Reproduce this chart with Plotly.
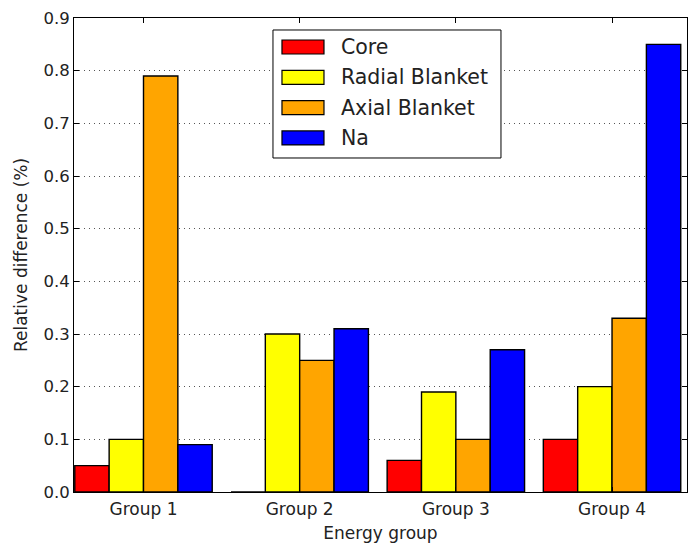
import plotly.graph_objects as go

groups = ["Group 1", "Group 2", "Group 3", "Group 4"]
series_names = ["Core", "Radial Blanket", "Axial Blanket", "Na"]
core = [0.05, 0.0, 0.06, 0.10]
radial_blanket = [0.10, 0.30, 0.19, 0.20]
axial_blanket = [0.79, 0.25, 0.10, 0.33]
sodium = [0.09, 0.31, 0.27, 0.85]
colors = ["#ff0000", "#ffff00", "#ffa500", "#0000ff"]
y_ticks = [0.0, 0.1, 0.2, 0.3, 0.4, 0.5, 0.6, 0.7, 0.8, 0.9]

positions = list(range(len(groups)))
font = "DejaVu Sans"
text_color = "#222222"

fig = go.Figure()
for name, vals, col in zip(series_names, [core, radial_blanket, axial_blanket, sodium], colors):
    fig.add_trace(go.Bar(
        x=positions, y=vals, name=name,
        marker=dict(color=col, line=dict(color="black", width=1.4)),
        showlegend=False,
    ))

# Legend box drawn with matplotlib-style wide swatches, anchored at its top-left corner
leg_x, leg_y = 0.3246, 0.9747
leg_w, leg_h = 228, 128
row_h, first_row = 30.3, 17
shapes = [dict(
    type="rect", xref="paper", yref="paper",
    xsizemode="pixel", ysizemode="pixel", xanchor=leg_x, yanchor=leg_y,
    x0=0, x1=leg_w, y0=0, y1=-leg_h,
    line=dict(color="black", width=1), fillcolor="white", layer="above",
)]
annotations = []
for i, (name, col) in enumerate(zip(series_names, colors)):
    yc = -(first_row + row_h * i)
    shapes.append(dict(
        type="rect", xref="paper", yref="paper",
        xsizemode="pixel", ysizemode="pixel", xanchor=leg_x, yanchor=leg_y,
        x0=9, x1=51, y0=yc - 7, y1=yc + 7,
        line=dict(color="black", width=1.2), fillcolor=col, layer="above",
    ))
    annotations.append(dict(
        xref="paper", yref="paper", x=leg_x, y=leg_y,
        xshift=66, yshift=yc, xanchor="left", yanchor="middle",
        text=name, showarrow=False,
        font=dict(family=font, size=20.5, color=text_color),
    ))

fig.update_layout(
    width=689, height=543,
    margin=dict(l=74, r=2, t=18, b=51),
    paper_bgcolor="white", plot_bgcolor="white",
    barmode="group", bargap=0.12, bargroupgap=0,
    font=dict(family=font, color=text_color, size=17),
    showlegend=False,
    shapes=shapes, annotations=annotations,
)
fig.update_xaxes(
    range=[-0.445, 3.48],
    tickvals=positions, ticktext=groups,
    showline=True, linecolor="black", linewidth=1, mirror="ticks",
    ticks="inside", ticklen=5, tickcolor="black",
    showgrid=False, zeroline=False,
    tickfont=dict(size=17), ticklabelstandoff=2,
    title=dict(text="Energy group", font=dict(size=17), standoff=9),
)
fig.update_yaxes(
    range=[0, 0.9],
    tickvals=y_ticks, ticktext=[f"{v:.1f}" for v in y_ticks],
    showline=True, linecolor="black", linewidth=1, mirror="ticks",
    ticks="inside", ticklen=5, tickcolor="black",
    showgrid=True, gridcolor="#555555", griddash="1px,4px", gridwidth=1,
    zeroline=False,
    tickfont=dict(size=16.5),
    title=dict(text="Relative difference (%)", font=dict(size=17), standoff=11),
)

fig.write_html("out.html")
